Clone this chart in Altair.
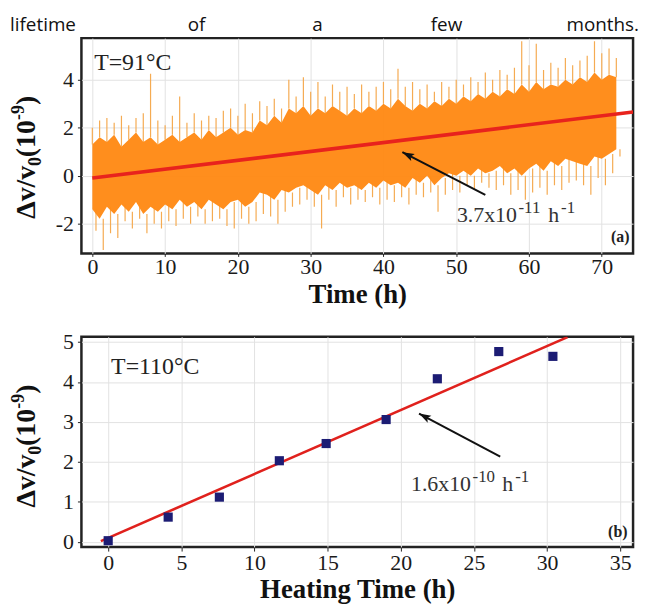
import altair as alt
import pandas as pd

# ---------------- header line ----------------
header_words = ["lifetime", "of", "a", "few", "months."]

# ---------------- panel (a): T = 91 C, continuous record ----------------
# upper / lower spike envelope read at each hour (0..72 h), units of 1e-9
spike_hi = [2.0, 2.3, 2.4, 2.2, 2.5, 2.1, 2.4, 2.6, 4.25, 2.3,
            2.1, 2.5, 3.3, 2.2, 2.6, 2.3, 2.5, 2.4, 2.7, 2.8,
            2.5, 3.0, 2.6, 3.1, 2.9, 3.2, 2.8, 4.0, 3.3, 4.1,
            3.5, 3.9, 3.3, 3.8, 3.5, 3.7, 3.4, 3.8, 3.5, 3.7,
            3.9, 3.6, 4.45, 3.7, 3.9, 3.6, 3.8, 3.5, 3.9, 3.7,
            4.0, 3.8, 4.1, 3.9, 4.3, 4.0, 4.4, 4.2, 4.5, 5.6,
            4.6, 5.5, 4.4, 4.7, 4.5, 4.9, 4.6, 4.8, 5.0, 5.6,
            5.1, 5.3, 4.9]
spike_lo = [-2.3, -3.1, -2.4, -2.6, -1.9, -2.2, -1.8, -2.4, -2.0, -2.2,
            -1.9, -2.1, -1.8, -2.0, -1.7, -2.0, -1.9, -1.8, -2.1, -2.2,
            -1.8, -2.0, -1.9, -1.6, -1.7, -2.0, -1.5, -1.3, -1.2, -1.0,
            -1.3, -2.2, -1.0, -1.3, -0.9, -1.2, -1.0, -1.1, -0.9, -1.2,
            -1.0, -1.1, -0.9, -1.2, -0.8, -0.9, -0.7, -1.5, -0.8, -0.6,
            -0.7, -0.4, -0.6, -0.3, -0.5, -0.6, -0.4, -0.8, -0.6, -1.0,
            -0.7, -0.5, -0.8, -0.4, -0.6, -0.3, -0.2, -0.4, -0.8, -0.1,
            -0.4, 0.1, 0.8]
# dense core of the record, read at each hour
core_hi = [1.3, 1.6, 1.4, 1.7, 1.2, 1.5, 1.8, 1.4, 1.6, 1.3,
           1.5, 1.7, 1.4, 1.6, 1.8, 1.5, 1.9, 1.6, 1.8, 2.0,
           1.7, 1.9, 1.8, 2.3, 2.1, 2.5, 2.2, 2.8, 2.6, 2.9,
           2.5, 2.8, 2.6, 2.9, 2.7, 2.5, 2.8, 2.6, 2.9, 2.7,
           3.0, 2.8, 3.2, 2.9, 2.7, 3.0, 2.8, 3.1, 2.9, 3.2,
           3.0, 3.3, 3.1, 3.4, 3.2, 3.5, 3.3, 3.6, 3.4, 3.8,
           3.5, 3.9, 3.6, 3.8, 3.7, 4.0, 3.8, 4.1, 3.9, 4.3,
           4.0, 4.2, 4.1]
core_lo = [-1.4, -1.8, -1.3, -1.6, -1.2, -1.5, -1.1, -1.6, -1.3, -1.5,
           -1.2, -1.4, -1.0, -1.3, -1.1, -1.4, -1.0, -1.2, -1.4, -1.1,
           -1.0, -1.3, -1.1, -0.7, -0.8, -1.0, -0.6, -0.7, -0.5, -0.4,
           -0.6, -0.8, -0.4, -0.6, -0.3, -0.5, -0.4, -0.6, -0.3, -0.5,
           -0.2, -0.4, -0.3, -0.5, -0.1, -0.3, 0.0, -0.4, -0.1, 0.1,
           0.0, 0.2, 0.0, 0.3, 0.1, 0.2, 0.4, 0.1, 0.3, 0.0,
           0.3, 0.5, 0.2, 0.6, 0.4, 0.7, 0.6, 0.5, 0.4, 0.8,
           0.7, 0.9, 1.1]
fit_a_t = [0.0, 74.3]
fit_a_v = [-0.10, 2.65]
arrow_a_t = [54.0, 42.6]
arrow_a_v = [-0.80, 0.98]
label_a_parts = ["3.7x10", "-11", "h", "-1"]
label_a_t = [50.1]
label_a_v = [-1.91]
temp_a_text = ["T=91°C"]
temp_a_t = [0.25]
temp_a_v = [4.40]
tag_a_text = ["(a)"]
tag_a_t = [73.8]
tag_a_v = [-2.78]

# ---------------- panel (b): T = 110 C, heating steps ----------------
heat_t = [0.0, 4.1, 7.6, 11.7, 14.9, 19.0, 22.5, 26.7, 30.4]
heat_v = [0.03, 0.62, 1.12, 2.03, 2.46, 3.06, 4.08, 4.76, 4.64]
fit_b_t = [-0.5, 31.4]
fit_b_v = [0.02, 5.12]
arrow_b_t = [26.8, 21.25]
arrow_b_v = [2.13, 3.21]
label_b_parts = ["1.6x10", "-10", "h", "-1"]
label_b_t = [20.7]
label_b_v = [1.28]
temp_b_text = ["T=110°C"]
temp_b_t = [0.2]
temp_b_v = [4.19]
tag_b_text = ["(b)"]
tag_b_t = [35.5]
tag_b_v = [0.12]

# y-axis title pieces: Δv/v, subscript 0, (10, superscript -9, )
ytitle_parts = ["Δv/v", "0", "(10", "-9", ")"]

SERIF = "Liberation Serif"
ARROW = "M0,0L0.4,1.2L0,0.95L-0.4,1.2Z"

# ---------------- tables ----------------
hours = list(range(len(spike_hi)))
up_df = pd.DataFrame({"t": hours, "v": core_hi, "v2": spike_hi})
dn_df = pd.DataFrame({"t": [h + 0.5 for h in hours], "v": core_lo, "v2": spike_lo})
core_df = pd.DataFrame({"t": hours, "v": core_hi, "v2": core_lo})
fit_a_df = pd.DataFrame({"t": fit_a_t, "v": fit_a_v})
arr_a_df = pd.DataFrame({"t": [arrow_a_t[0]], "v": [arrow_a_v[0]],
                         "t2": [arrow_a_t[1]], "v2": [arrow_a_v[1]]})
head_a_df = pd.DataFrame({"t": [arrow_a_t[1]], "v": [arrow_a_v[1]]})
lab_a_df = pd.DataFrame({"t": label_a_t, "v": label_a_v})
temp_a_df = pd.DataFrame({"t": temp_a_t, "v": temp_a_v, "s": temp_a_text})
tag_a_df = pd.DataFrame({"t": tag_a_t, "v": tag_a_v, "s": tag_a_text})

heat_df = pd.DataFrame({"t": heat_t, "v": heat_v})
fit_b_df = pd.DataFrame({"t": fit_b_t, "v": fit_b_v})
arr_b_df = pd.DataFrame({"t": [arrow_b_t[0]], "v": [arrow_b_v[0]],
                         "t2": [arrow_b_t[1]], "v2": [arrow_b_v[1]]})
head_b_df = pd.DataFrame({"t": [arrow_b_t[1]], "v": [arrow_b_v[1]]})
lab_b_df = pd.DataFrame({"t": label_b_t, "v": label_b_v})
temp_b_df = pd.DataFrame({"t": temp_b_t, "v": temp_b_v, "s": temp_b_text})
tag_b_df = pd.DataFrame({"t": tag_b_t, "v": tag_b_v, "s": tag_b_text})


def rate_label(df, parts, x, y):
    """Base text plus raised exponents, in the serif face."""
    offs = [(0, 0, 22), (62, -9, 17), (92, 0, 22), (105, -9, 17)]
    out = []
    for txt, (dx, dy, fs) in zip(parts, offs):
        out.append(alt.Chart(df).mark_text(
            text=txt, font=SERIF, fontSize=fs, dx=dx, dy=dy, align="left",
            baseline="alphabetic", color="#333").encode(x=x, y=y))
    return out


def y_title(bottom):
    """Rotated bold axis title built from pieces (offsets in the text's own frame)."""
    offs = [(0, 0, 28), (53, 6, 18), (62, 0, 28), (99.5, -11, 18), (114.5, 0, 28)]
    out = []
    for txt, (dx, dy, fs) in zip(ytitle_parts, offs):
        out.append(alt.Chart(pd.DataFrame({"k": [0]})).mark_text(
            text=txt, font=SERIF, fontSize=fs, fontWeight="bold", angle=270,
            align="left", baseline="alphabetic", color="#111", dx=dx, dy=dy
        ).encode(x=alt.value(-47), y=alt.value(bottom)))
    return out


# ---------------- panel (a) ----------------
sxa = alt.Scale(domain=[-1.5, 74.3], nice=False, zero=False)
sya = alt.Scale(domain=[-3.24, 5.73], nice=False, zero=False)
xa = alt.X("t:Q", scale=sxa, axis=alt.Axis(values=list(range(0, 71, 10)), title="Time (h)",
                                            tickSize=3, labelPadding=0, titlePadding=4))
ya = alt.Y("v:Q", scale=sya, axis=alt.Axis(values=[-2, 0, 2, 4], title=None,
                                            labelExpr="'' + datum.value", tickSize=4,
                                            labelPadding=4))

core_a = alt.Chart(core_df).mark_area(color="#ff8a16", opacity=0.97, clip=True).encode(
    x=xa, y=ya, y2="v2:Q")
up_a = alt.Chart(up_df).mark_rule(color="#f5ab52", strokeWidth=1.2, clip=True).encode(
    x=xa, y=ya, y2="v2:Q")
dn_a = alt.Chart(dn_df).mark_rule(color="#f5ab52", strokeWidth=1.2, clip=True).encode(
    x=xa, y=ya, y2="v2:Q")
fit_a = alt.Chart(fit_a_df).mark_line(color="#e8231d", strokeWidth=3.6, clip=True).encode(x=xa, y=ya)
arr_a = alt.Chart(arr_a_df).mark_rule(color="#111", strokeWidth=2).encode(
    x=xa, y=ya, x2="t2:Q", y2="v2:Q")
head_a = alt.Chart(head_a_df).mark_point(shape=ARROW, filled=True, color="#111", opacity=1,
                                         size=400, angle=297).encode(x=xa, y=ya)
temp_a = alt.Chart(temp_a_df).mark_text(font=SERIF, fontSize=24, align="left", baseline="alphabetic",
                                        color="#222").encode(x=xa, y=ya, text="s:N")
tag_a = alt.Chart(tag_a_df).mark_text(font=SERIF, fontSize=16, fontWeight="bold", align="right",
                                      baseline="alphabetic", color="#222").encode(x=xa, y=ya, text="s:N")

header_x = [-72, 116, 238, 368, 562]
header_align = ["left", "center", "center", "center", "right"]
header_layers = []
for w, hx, al in zip(header_words, header_x, header_align):
    header_layers.append(
        alt.Chart(pd.DataFrame({"w": [w]})).mark_text(
            font="Open Sans", fontSize=19, align=al, baseline="alphabetic", color="#111"
        ).encode(text="w:N", x=alt.value(hx), y=alt.value(-7))
    )

panel_a = alt.layer(up_a, dn_a, core_a, fit_a, arr_a, head_a, temp_a, tag_a,
                    *rate_label(lab_a_df, label_a_parts, xa, ya),
                    *y_title(182),
                    *header_layers).properties(width=556, height=217)

# ---------------- panel (b) ----------------
sxb = alt.Scale(domain=[-1.83, 35.88], nice=False, zero=False)
syb = alt.Scale(domain=[-0.13, 5.13], nice=False, zero=False)
xb = alt.X("t:Q", scale=sxb, axis=alt.Axis(values=list(range(0, 36, 5)), title="Heating Time (h)",
                                            tickSize=4, labelPadding=2, titlePadding=3))
yb = alt.Y("v:Q", scale=syb, axis=alt.Axis(values=[0, 1, 2, 3, 4, 5], title=None,
                                            tickSize=4, labelPadding=4))

fit_b = alt.Chart(fit_b_df).mark_line(color="#e0211d", strokeWidth=2.6, clip=True).encode(x=xb, y=yb)
pts_b = alt.Chart(heat_df).mark_square(color="#1c1c74", size=85, opacity=1).encode(x=xb, y=yb)
arr_b = alt.Chart(arr_b_df).mark_rule(color="#111", strokeWidth=2).encode(
    x=xb, y=yb, x2="t2:Q", y2="v2:Q")
head_b = alt.Chart(head_b_df).mark_point(shape=ARROW, filled=True, color="#111", opacity=1,
                                         size=400, angle=298).encode(x=xb, y=yb)
temp_b = alt.Chart(temp_b_df).mark_text(font=SERIF, fontSize=24, align="left", baseline="alphabetic",
                                        color="#222").encode(x=xb, y=yb, text="s:N")
tag_b = alt.Chart(tag_b_df).mark_text(font=SERIF, fontSize=16, fontWeight="bold", align="right",
                                      baseline="alphabetic", color="#222").encode(x=xb, y=yb, text="s:N")

panel_b = alt.layer(fit_b, pts_b, arr_b, head_b, temp_b, tag_b,
                    *rate_label(lab_b_df, label_b_parts, xb, yb),
                    *y_title(172)).properties(width=556, height=212)

chart = alt.vconcat(panel_a, panel_b, spacing=20).properties(
    padding={"left": 0, "top": 4, "right": 0, "bottom": 0}, background="white"
).configure_view(
    stroke="#222", strokeWidth=2.5
).configure_axis(
    labelFont=SERIF, labelFontSize=22, labelColor="#1a1a1a",
    titleFont=SERIF, titleFontSize=27, titleFontWeight="bold", titleColor="#111",
    tickColor="#222", domain=False, grid=True, gridColor="#e2e2e2", gridWidth=1
)

chart.save("out.html", embed_options={"renderer": "svg", "actions": False})
